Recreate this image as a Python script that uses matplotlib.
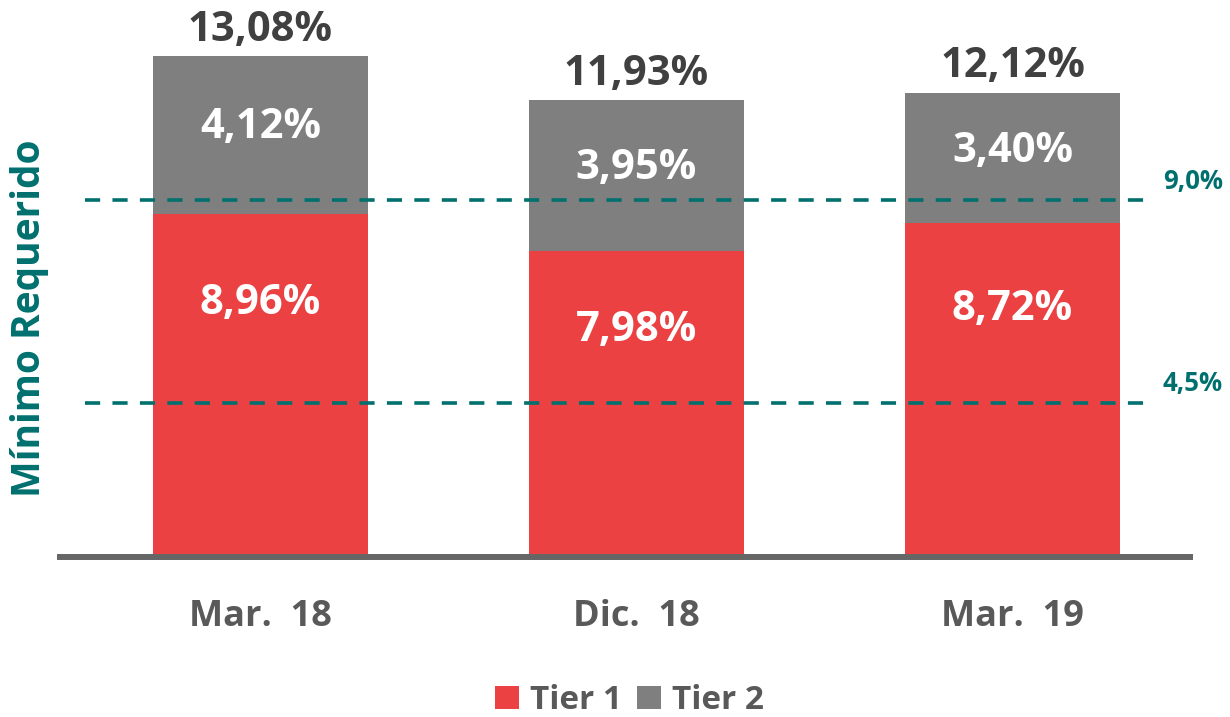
import matplotlib.pyplot as plt
import numpy as np

plt.rcParams["font.family"] = ["Open Sans", "DejaVu Sans"]

periods = ["Mar.  18", "Dic.  18", "Mar.  19"]
tier1 = [8.96, 7.98, 8.72]
tier2 = [4.12, 3.95, 3.40]
totals = [13.08, 11.93, 12.12]
min_levels = [9.32, 4.02]
min_labels = ["9,0%", "4,5%"]

RED = "#EC4142"
GRAY = "#7F7F7F"
TEAL = "#00706F"
DARK = "#404040"


def pct(v):
    return f"{v:.2f}%".replace(".", ",")


fig = plt.figure(figsize=(12.3, 7.17), dpi=100)
ax = fig.add_axes([60 / 1230, 160 / 717, 1130 / 1230, 540 / 717])

x = np.arange(len(periods))
width = 0.572
t1 = np.array(tier1)
t2 = np.array(tier2)
ax.bar(x, t1, width=width, color=RED, label="Tier 1", zorder=2)
ax.bar(x, t2, width=width, bottom=t1, color=GRAY, label="Tier 2", zorder=2)

# dashed minimum-requirement lines drawn over the bars
for lvl, lab in zip(min_levels, min_labels):
    ax.axhline(lvl, xmin=0.022, xmax=0.963, color=TEAL, lw=2.6, dashes=(4.2, 3.4), zorder=3)
    ax.annotate(lab, xy=(1.0, lvl), xycoords=("axes fraction", "data"), xytext=(-19.5, 4),
                textcoords="offset points", ha="left", va="bottom", color=TEAL,
                fontsize=18.5, fontweight="bold", annotation_clip=False)

for i in range(len(periods)):
    ax.text(x[i], t1[i] * 0.74, pct(tier1[i]), ha="center", va="center", color="white",
            fontsize=30, fontweight="bold", zorder=4)
    ax.text(x[i], t1[i] + t2[i] * 0.55, pct(tier2[i]), ha="center", va="center", color="white",
            fontsize=30, fontweight="bold", zorder=4)
    ax.annotate(pct(totals[i]), xy=(x[i], totals[i]), xytext=(0, 4), textcoords="offset points",
                ha="center", va="bottom", color=DARK, fontsize=30, fontweight="bold")

ax.set_xlim(-0.533, 2.472)
ax.set_ylim(0, 14.1)
ax.set_xticks(x)
ax.set_xticklabels(periods, fontsize=26, fontweight="bold", color="#595959")
ax.tick_params(axis="x", length=0, pad=30)
ax.set_yticks([])
for side in ["top", "right", "left"]:
    ax.spines[side].set_visible(False)
ax.spines["bottom"].set_color("#666666")
ax.spines["bottom"].set_linewidth(4.3)

fig.text(30 / 1230, (717 - 318) / 717, "Mínimo Requerido", rotation=90, ha="center", va="center",
         color=TEAL, fontsize=28, fontweight="bold")

fig.legend(loc="lower center", bbox_to_anchor=(0.512, -0.042), ncol=2, frameon=False,
           handlelength=0.7, handleheight=0.7, handletextpad=0.35,
           columnspacing=0.45, prop={"weight": "bold", "size": 24}, labelcolor="#595959")

fig.savefig("out.png", dpi=100)
